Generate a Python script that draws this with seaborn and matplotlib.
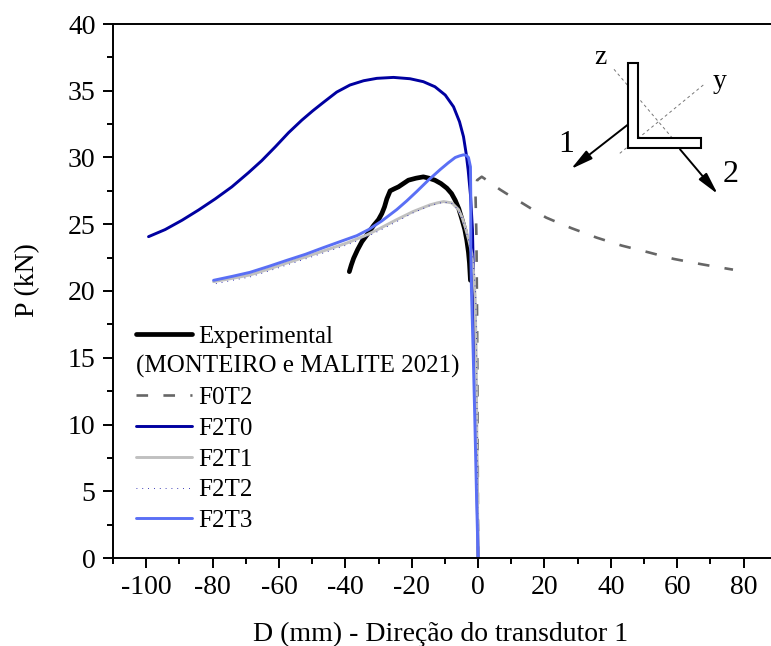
import matplotlib
matplotlib.use("Agg")
import matplotlib.pyplot as plt
import seaborn as sns
from matplotlib.lines import Line2D
from matplotlib.patches import Polygon
from matplotlib.ticker import MultipleLocator

# curves (D in mm, P in kN)
exp_d = [-38.8, -38.2, -37.5, -36.3, -35, -33.2, -31.5, -30, -29, -28.2, -27.5, -26.5, -25.3, -24, -22.5, -21, -18.7,
         -16.5, -14.8, -13, -11.2, -9.4, -8, -6.9, -5.8, -4.9, -4, -3.4, -2.9, -2.6, -2.3]
exp_p = [21.45, 21.95, 22.45, 23.1, 23.7, 24.3, 24.9, 25.35, 25.8, 26.3, 26.9, 27.5, 27.65, 27.8, 28.05, 28.3, 28.45,
         28.55, 28.45, 28.3, 28.05, 27.7, 27.3, 26.8, 26.15, 25.4, 24.6, 23.8, 22.9, 22.1, 20.8]

f0t2_d = [0, -0.15, -0.3, -0.5, -0.8, -0.3, 1.1, 3.5, 6.6, 9.8, 13.2, 16.8, 20.5, 24.3, 28.2, 32, 35.7, 39.5, 43.3,
          47.3, 51.3, 55.1, 59, 63.2, 67.4, 72, 76.8]
f0t2_p = [0, 10, 18, 24, 27.5, 28.3, 28.56, 28.15, 27.6, 27.1, 26.6, 26.05, 25.5, 25.1, 24.7, 24.35, 24, 23.7, 23.4,
          23.15, 22.9, 22.65, 22.4, 22.2, 22, 21.8, 21.6]

f2t0_d = [-99.3, -94.3, -89.2, -84.2, -79.2, -74.2, -69.2, -65.2, -61.1, -57.1, -53.1, -49.8, -46.6, -42.6, -38.6,
          -34.5, -30.5, -25.5, -20.5, -16.5, -13, -9.9, -7.4, -5.6, -4.4, -3.6, -3, -2.3, -1.7,
          -1.3, -1, -0.6, -0.3, 0]
f2t0_p = [24.07, 24.6, 25.3, 26.07, 26.9, 27.8, 28.86, 29.76, 30.8, 31.86, 32.8, 33.5, 34.13, 34.9, 35.43,
          35.75, 35.93, 36.0, 35.9, 35.68, 35.3, 34.68, 33.8, 32.68, 31.56, 30.3, 29.07, 27.2, 24.6, 20, 15.6,
          10, 5, 0]

f2t1_d = [-79.7, -74, -68.7, -63, -57.6, -52, -46.6, -39.5, -33.5, -29.5, -24.5, -19.6, -14.5, -12.3, -10.4, -7.9,
          -5.9, -4.8, -3.9, -2.8, -1.9, -1.3, -0.9, -0.6, -0.4, -0.2, 0]
f2t1_p = [20.7, 20.95, 21.2, 21.65, 22.1, 22.55, 23.0, 23.6, 24.2, 24.7, 25.35, 25.95, 26.45, 26.6, 26.7, 26.6,
          26.1, 25.5, 24.8, 23.8, 22.8, 21.2, 19.6, 15.6, 10, 5, 0]

f2t2_d = [-79, -74, -68.7, -63, -57.6, -52, -46.6, -39.5, -33.5, -29.5, -24.5, -19.6, -14.5, -12.3, -10.4, -7.9,
          -5.9, -4.8, -3.9, -2.8, -1.7, -1.1, -0.7, -0.45, -0.3, -0.15, 0]
f2t2_p = [20.55, 20.8, 21.05, 21.5, 21.95, 22.4, 22.85, 23.45, 24.05, 24.55, 25.2, 25.85, 26.4, 26.55, 26.65, 26.55,
          26.05, 25.45, 24.75, 23.75, 22.75, 21.1, 19.5, 15.6, 10, 5, 0]

f2t3_d = [-79.7, -74, -68.7, -63, -57.6, -52, -46.6, -41, -36.5, -33, -29, -24.5, -21.5, -18.5, -15, -11.4, -9, -6.9,
          -5.6, -4.4, -3.5, -2.9, -2.3, -2.2, -2.2, -2, -1.5, -1, -0.5, 0]
f2t3_p = [20.8, 21.1, 21.4, 21.85, 22.3, 22.75, 23.25, 23.75, 24.15, 24.6, 25.25, 26.1, 26.75, 27.45, 28.3, 29.1,
          29.6, 30, 30.12, 30.2, 30.15, 30, 29.3, 27, 23, 20, 15.6, 10.5, 5, 0]

x_ticks = [-100, -80, -60, -40, -20, 0, 20, 40, 60, 80]
y_ticks = [0, 5, 10, 15, 20, 25, 30, 35, 40]

sns.set_style("ticks")
plt.rcParams["font.family"] = ["Liberation Serif", "DejaVu Serif"]
plt.rcParams["axes.unicode_minus"] = False
plt.rcParams["text.color"] = "black"
plt.rcParams["axes.labelcolor"] = "black"
plt.rcParams["xtick.labelcolor"] = "black"
plt.rcParams["ytick.labelcolor"] = "black"

W, H = 771, 646
fig = plt.figure(figsize=(W / 100, H / 100), dpi=100)
ax = fig.add_axes([113 / W, 1 - 558 / H, (W - 113) / W, (558 - 24) / H])


def fpx(x, y):
    # pixel position in the image -> figure fraction
    return x / W, 1 - y / H


# curves
sns.lineplot(x=exp_d, y=exp_p, sort=False, estimator=None, color="black", linewidth=3.4, label="Experimental", ax=ax)
sns.lineplot(x=f0t2_d, y=f0t2_p, sort=False, estimator=None, color="#666666", linewidth=1.9,
             linestyle=(0, (4.4, 5.8)), label="F0T2", ax=ax)
sns.lineplot(x=f2t0_d, y=f2t0_p, sort=False, estimator=None, color="#0000a0", linewidth=2.1, label="F2T0", ax=ax)
sns.lineplot(x=f2t1_d, y=f2t1_p, sort=False, estimator=None, color="#c0c0c0", linewidth=2.1, label="F2T1", ax=ax)
sns.lineplot(x=f2t2_d, y=f2t2_p, sort=False, estimator=None, color="#0000a0", linewidth=0.6,
             linestyle=(0, (1, 6)), label="F2T2", ax=ax)
sns.lineplot(x=f2t3_d, y=f2t3_p, sort=False, estimator=None, color="#5a6ff5", linewidth=2.1, label="F2T3", ax=ax)

ax.set_xlim(-110, 88.25)
ax.set_ylim(0, 40)
ax.set_xticks(x_ticks)
ax.set_yticks(y_ticks)
ax.xaxis.set_minor_locator(MultipleLocator(10))
ax.yaxis.set_minor_locator(MultipleLocator(2.5))
ax.tick_params(which="major", length=7.5, width=1.4, labelsize=20, color="black", pad=5)
ax.tick_params(which="minor", length=4, width=1.4, color="black")
ax.set_xlabel("D (mm) - Direção do transdutor 1", fontsize=20)
ax.set_ylabel("P (kN)", fontsize=20, va="center")
ax.xaxis.set_label_coords((441 - 113) / (W - 113), -(622 - 558) / (558 - 24))
ax.yaxis.set_label_coords((28 - 113) / (W - 113), (558 - 280) / (558 - 24))
ax.spines["right"].set_visible(False)
for side in ["left", "bottom", "top"]:
    ax.spines[side].set_linewidth(1.4)
    ax.spines[side].set_color("black")

# legend, the second row is the reference text under Experimental
handles, labels = ax.get_legend_handles_labels()
handles.insert(1, Line2D([], [], color="none"))
labels.insert(1, " ")
ax.legend(handles, labels, loc="upper left", bbox_to_anchor=fpx(136, 325), bbox_transform=fig.transFigure,
          frameon=False, fontsize=18, handlelength=2.25, handletextpad=0.25, labelspacing=0.33,
          borderpad=0, borderaxespad=0)
fig.text(*fpx(136, 366), "(MONTEIRO e MALITE 2021)", fontsize=18, va="center", ha="left")

# section sketch top right
for start, end in [((614, 69.3), (671.7, 137.3)), ((703.3, 85), (619, 154))]:
    fig.add_artist(Line2D([fpx(*start)[0], fpx(*end)[0]], [fpx(*start)[1], fpx(*end)[1]], transform=fig.transFigure,
                          color="#777777", linewidth=0.7, linestyle=(0, (3, 3)), zorder=5))
section = [(628.3, 62.7), (638.3, 62.7), (638.3, 138.3), (701, 138.3), (701, 148.3), (628.3, 148.3)]
fig.add_artist(Polygon([fpx(*p) for p in section], closed=True, transform=fig.transFigure, facecolor="white",
                       edgecolor="black", linewidth=1.5, zorder=6))
for start, end in [((628.3, 124.3), (571, 169)), ((680, 149.3), (717.7, 194))]:
    ax.annotate("", xy=fpx(*end), xytext=fpx(*start), xycoords="figure fraction", textcoords="figure fraction",
                arrowprops=dict(arrowstyle="-|>,head_length=0.95,head_width=0.22", mutation_scale=14, color="black",
                                linewidth=1.4, shrinkA=0, shrinkB=0), annotation_clip=False)
for label, x, y, size in [("z", 600, 57, 20), ("y", 720, 81, 20), ("1", 566, 144, 23), ("2", 731, 174, 23)]:
    fig.text(*fpx(x, y), label, fontsize=size, ha="center", va="center", zorder=7)

fig.savefig("out.png", dpi=100)
